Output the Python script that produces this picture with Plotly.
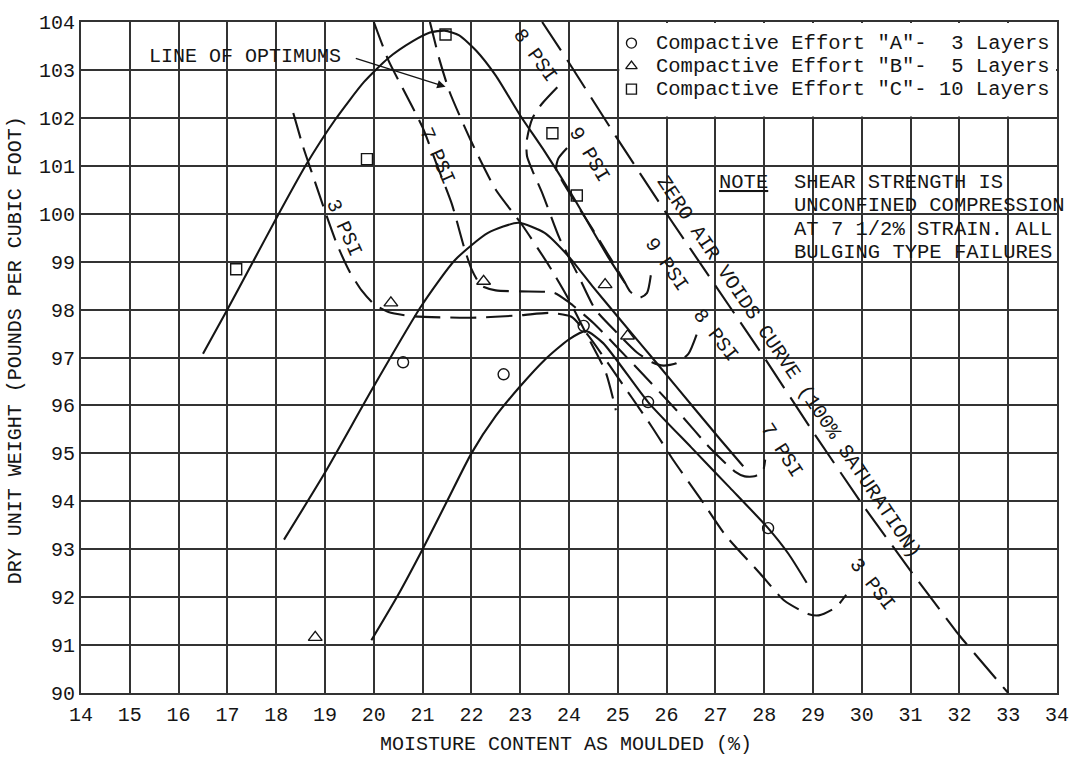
import plotly.graph_objects as go

FONT = "Liberation Mono"
INK = "#151515"
GRID = "#333333"

# ---------------- axes ----------------
x_ticks = list(range(14, 35))
y_ticks = list(range(90, 105))

# ---------------- compaction curves (solid) ----------------
curve_a_x = [19.95, 20.5, 21.0, 21.5, 22.0, 22.5, 23.0, 23.5, 24.0, 24.35, 24.7, 25.62, 26.5, 27.3, 28.08, 28.5, 28.87]
curve_a_y = [91.1, 92.05, 93.0, 94.0, 95.0, 95.78, 96.4, 96.95, 97.38, 97.55, 97.3, 96.07, 95.13, 94.28, 93.44, 92.9, 92.3]

curve_b_x = [18.16, 19.0, 20.0, 20.97, 21.66, 22.34, 22.96, 23.5, 24.0, 24.47, 25.0, 25.8, 26.6, 27.1, 27.57]
curve_b_y = [93.2, 94.6, 96.4, 98.07, 99.03, 99.6, 99.81, 99.6, 99.1, 98.5, 97.85, 96.88, 95.9, 95.29, 94.73]

curve_c_x = [16.5, 17.0, 17.5, 18.0, 18.6, 19.2, 19.8, 20.3, 20.8, 21.15, 21.45, 21.75, 22.1, 22.5, 23.0, 23.5, 24.05, 24.8, 25.15]
curve_c_y = [97.08, 98.0, 98.95, 99.9, 101.0, 101.95, 102.75, 103.25, 103.6, 103.78, 103.82, 103.72, 103.4, 102.88, 102.05, 101.3, 100.41, 99.1, 98.55]

# ---------------- zero air voids curve ----------------
zav_x = [23.45, 24.0, 25.0, 26.0, 27.0, 28.0, 29.0, 30.0, 31.0, 32.0, 33.0]
zav_y = [104.0, 103.15, 101.55, 100.0, 98.5, 97.0, 95.45, 93.95, 92.55, 91.2, 90.0]

# ---------------- line of optimums ----------------
opt_x = [21.15, 21.35, 21.55, 22.0, 22.5, 23.03, 23.6, 24.0, 24.35, 24.75, 24.96]
opt_y = [104.0, 103.2, 102.55, 101.5, 100.5, 99.78, 98.9, 98.2, 97.5, 96.7, 95.9]

# ---------------- shear strength contours (dashed) ----------------
psi3_x = [18.35, 18.55, 18.75, 19.0, 19.25, 19.5, 19.75, 20.0, 20.3, 20.8, 22.0, 23.0, 23.6, 24.05, 24.4, 25.29, 25.7, 26.15, 26.71, 27.2, 27.91, 28.41, 28.9, 29.12, 29.47, 29.68]
psi3_y = [102.1, 101.4, 100.8, 100.05, 99.35, 98.8, 98.4, 98.12, 97.95, 97.86, 97.83, 97.88, 97.93, 97.85, 97.45, 96.16, 95.55, 94.84, 94.03, 93.3, 92.5, 91.93, 91.65, 91.62, 91.79, 92.05]

psi7_x = [20.0, 20.3, 20.6, 21.0, 21.3, 21.6, 21.85, 22.0, 22.2, 22.5, 23.0, 23.7, 24.0, 24.5, 25.3, 26.25, 26.9, 27.4, 27.6, 27.8, 27.97, 28.02]
psi7_y = [104.0, 103.2, 102.6, 101.8, 101.0, 100.2, 99.3, 98.85, 98.5, 98.4, 98.38, 98.35, 98.15, 97.72, 96.88, 95.85, 95.1, 94.62, 94.52, 94.52, 94.62, 94.87]

psi8_x = [23.76, 23.45, 23.25, 23.13, 23.14, 23.25, 23.46, 23.8, 24.2, 24.54, 25.0, 25.4, 25.7, 25.94, 26.2, 26.45, 26.62]
psi8_y = [102.64, 102.3, 101.99, 101.5, 101.2, 100.9, 100.41, 99.5, 98.69, 98.0, 97.5, 97.1, 96.9, 96.83, 96.88, 97.08, 97.49]

psi9_x = [23.96, 23.78, 23.74, 24.5, 25.1, 25.25, 25.45, 25.6, 25.68]
psi9_y = [101.37, 101.15, 100.93, 99.65, 98.65, 98.38, 98.25, 98.35, 98.74]

# ---------------- test points ----------------
pts_a_x = [20.6, 22.66, 24.3, 25.62, 28.08]
pts_a_y = [96.9, 96.65, 97.66, 96.07, 93.44]
pts_b_x = [18.8, 20.35, 22.25, 24.74, 25.2]
pts_b_y = [91.16, 98.14, 98.59, 98.52, 97.45]
pts_c_x = [17.18, 19.86, 21.47, 23.66, 24.16]
pts_c_y = [98.84, 101.14, 103.74, 101.68, 100.38]

# ---------------- legend entries ----------------
legend_labels = ['Compactive Effort "A"-\u00a0\u00a03 Layers',
                 'Compactive Effort "B"-\u00a0\u00a05 Layers',
                 'Compactive Effort "C"-\u00a010 Layers']
legend_symbols = ["circle-open", "triangle-up-open", "square-open"]
legend_sym_x = 25.28
legend_text_x = 25.74
legend_rows_y = [103.56, 103.08, 102.6]

# ---------------- contour labels ----------------
psi_labels = ["3 PSI", "7 PSI", "8 PSI", "9 PSI", "9 PSI", "8 PSI", "7 PSI", "3 PSI"]
psi_label_x = [19.38, 21.3, 23.3, 24.41, 26.0, 27.0, 28.35, 30.21]
psi_label_y = [99.71, 101.2, 103.3, 101.23, 98.95, 97.45, 95.05, 92.26]
psi_label_angle = [66, 66, 54, 59, 55, 52, 57, 52]

note_lines = ["SHEAR STRENGTH IS", "UNCONFINED COMPRESSION",
              "AT 7 1/2% STRAIN. ALL", "BULGING TYPE FAILURES"]
note_x = 28.57
note_y = [100.66, 100.17, 99.68, 99.2]

fig = go.Figure()

CONTOUR_DASH = "26px,10px"

def line(x, y, dash=None, width=2.1, smooth=0.6):
    fig.add_trace(go.Scatter(
        x=x, y=y, mode="lines", showlegend=False, hoverinfo="skip",
        line=dict(color=INK, width=width, dash=dash, shape="spline", smoothing=smooth)))

line(curve_a_x, curve_a_y)
line(curve_b_x, curve_b_y)
line(curve_c_x, curve_c_y)
line(zav_x, zav_y, dash="34px,11px", smooth=0.3)
line(opt_x, opt_y, dash=CONTOUR_DASH)
line(psi3_x, psi3_y, dash=CONTOUR_DASH)
line(psi7_x, psi7_y, dash=CONTOUR_DASH)
line(psi8_x, psi8_y, dash=CONTOUR_DASH)
line(psi9_x, psi9_y, dash=CONTOUR_DASH)

def markers(x, y, symbol, size):
    fig.add_trace(go.Scatter(
        x=x, y=y, mode="markers", showlegend=False, hoverinfo="skip",
        marker=dict(symbol=symbol, size=size, color=INK, line=dict(color=INK, width=1.4))))

markers(pts_a_x, pts_a_y, "circle-open", 11)
markers(pts_b_x, pts_b_y, "triangle-up-open", 12)
markers(pts_c_x, pts_c_y, "square-open", 11)

for sym, yy in zip(legend_symbols, legend_rows_y):
    markers([legend_sym_x], [yy], sym, 10)

annotations = []
for txt, yy in zip(legend_labels, legend_rows_y):
    annotations.append(dict(x=legend_text_x, y=yy, text=txt, xanchor="left", yanchor="middle",
                            showarrow=False, font=dict(family=FONT, size=20.5, color=INK)))

for txt, xx, yy, ang in zip(psi_labels, psi_label_x, psi_label_y, psi_label_angle):
    annotations.append(dict(x=xx, y=yy, text=txt, textangle=ang, showarrow=False,
                            font=dict(family=FONT, size=20, color=INK)))

annotations.append(dict(x=28.51, y=96.8, text="ZERO AIR VOIDS CURVE (100% SATURATION)",
                        textangle=56, showarrow=False, font=dict(family=FONT, size=20, color=INK)))

annotations.append(dict(x=17.37, y=103.27, text="LINE OF OPTIMUMS", showarrow=False,
                        font=dict(family=FONT, size=20, color=INK)))
annotations.append(dict(x=21.47, y=102.65, ax=19.6, ay=103.25, axref="x", ayref="y",
                        text="", showarrow=True, arrowhead=2, arrowsize=1.2, arrowwidth=1.4,
                        arrowcolor=INK))

annotations.append(dict(x=27.04, y=100.66, text="<u>NOTE</u>", xanchor="left", showarrow=False,
                        font=dict(family=FONT, size=20.5, color=INK)))
for txt, yy in zip(note_lines, note_y):
    annotations.append(dict(x=note_x, y=yy, text=txt, xanchor="left", showarrow=False,
                            font=dict(family=FONT, size=20.5, color=INK)))

annotations.append(dict(xref="paper", yref="paper", x=0.497, y=-0.0764,
                        text="MOISTURE CONTENT AS MOULDED (%)", showarrow=False,
                        xanchor="center", yanchor="middle",
                        font=dict(family=FONT, size=20, color=INK)))
annotations.append(dict(xref="paper", yref="paper", x=-0.0675, y=0.511,
                        text="DRY UNIT WEIGHT (POUNDS PER CUBIC FOOT)", showarrow=False,
                        textangle=-90, xanchor="center", yanchor="middle",
                        font=dict(family=FONT, size=20, color=INK)))

shapes = [dict(type="rect", xref="x", yref="y", x0=25.03, x1=33.98, y0=102.03, y1=103.98,
               fillcolor="white", line=dict(width=0), layer="between")]

axis_common = dict(showgrid=True, gridcolor=GRID, gridwidth=2, showline=True, linecolor=GRID,
                   linewidth=2.2, mirror=True, zeroline=False, ticks="",
                   tickfont=dict(family=FONT, size=20, color=INK))

fig.update_layout(
    width=1082, height=759,
    margin=dict(l=81, r=25, t=12, b=66),
    paper_bgcolor="white", plot_bgcolor="white",
    xaxis=dict(range=[14, 34], tickvals=x_ticks, ticktext=[str(v) for v in x_ticks],
               ticklabelstandoff=2, **axis_common),
    yaxis=dict(range=[90, 104], tickvals=y_ticks, ticktext=[str(v) for v in y_ticks],
               ticklabelstandoff=0, **axis_common),
    annotations=annotations, shapes=shapes,
    showlegend=False,
)

fig.write_html("out.html")
